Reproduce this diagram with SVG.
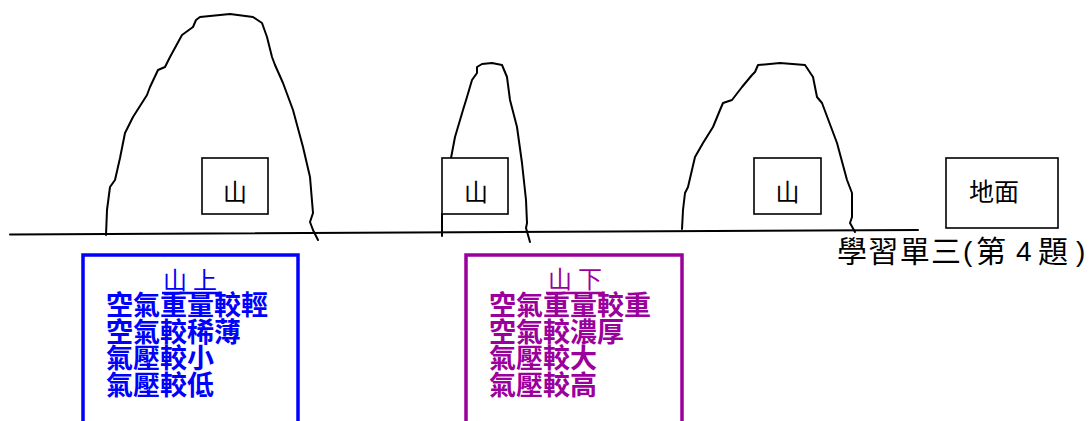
<svg xmlns="http://www.w3.org/2000/svg" width="1091" height="421" viewBox="0 0 1091 421">
  <style>
    .ridge { fill: none; stroke: #000; stroke-width: 2; stroke-linejoin: round; stroke-linecap: round; }
    .tag { fill: #fff; stroke: #000; stroke-width: 1.6; }
    .tagtext { font-family: "Noto Sans CJK TC", "Noto Sans CJK SC", sans-serif; font-size: 24px; fill: #000; text-anchor: middle; }
    .note { font-family: "Noto Sans CJK TC", "Noto Sans CJK SC", sans-serif; font-size: 27px; font-weight: 700; }
    .head { font-family: "Noto Sans CJK TC", "Noto Sans CJK SC", sans-serif; font-size: 24px; letter-spacing: 6px; }
    .title-cjk { font-family: "Noto Sans CJK TC", "Noto Sans CJK SC", sans-serif; font-size: 30px; fill: #000; }
    .title-lat { font-family: "Liberation Sans", Arial, sans-serif; font-size: 28px; fill: #000; }
    .blue { fill: #0000ff; }
    .purple { fill: #9c009c; }
  </style>

  <rect width="1091" height="421" fill="#fff"/>

  <!-- ground line -->
  <g id="ground">
    <path class="ridge" d="M10,234.5 L918,230"/>
  </g>

  <!-- mountain 1 -->
  <g id="mountain-1">
    <path class="ridge" d="M106,235 L107,210 L110,187 L115,180 L120,158 L125,133 L133,117 L147,95 L150,87 L158,70 L165,67 L170,57 L182,35 L193,27 L196,20 L200,17 L230,14 L253,17 L262,23 L267,37 L272,57 L275,65 L283,83 L293,110 L303,147 L310,177 L313,213 L310,222 L313,230 L318,240"/>
    <rect class="tag" x="202" y="158" width="66" height="56"/>
    <text class="tagtext" x="235" y="201">山</text>
  </g>

  <!-- mountain 2 -->
  <g id="mountain-2">
    <path class="ridge" d="M451,158 L455,137 L463,110 L467,97 L472,80 L477,73 L477,67 L482,64 L492,63 L502,65 L507,77 L510,100 L517,127 L522,163 L526,200 L527,223 L526,228 L530,242"/>
    <path class="ridge" d="M442,214 L442,236"/>
    <rect class="tag" x="442" y="158" width="66" height="56"/>
    <text class="tagtext" x="476" y="201">山</text>
  </g>

  <!-- mountain 3 -->
  <g id="mountain-3">
    <path class="ridge" d="M682,229 L683,210 L685,193 L688,187 L695,157 L703,143 L713,127 L720,110 L723,103 L732,100 L742,87 L752,75 L755,72 L758,65 L780,63 L805,65 L813,77 L817,97 L822,103 L837,143 L847,180 L852,193 L852,217 L850,223 L855,232"/>
    <rect class="tag" x="754" y="158" width="67" height="56"/>
    <text class="tagtext" x="787.5" y="201">山</text>
  </g>

  <!-- ground label -->
  <g id="ground-label">
    <rect class="tag" x="946" y="158" width="112" height="70"/>
    <text class="tagtext" x="994" y="201" style="font-size:25px">地面</text>
  </g>

  <!-- title: 學習單三(第 4 題) -->
  <g id="title">
    <text class="title-cjk" x="837" y="262" textLength="124" lengthAdjust="spacing">學習單三</text>
    <text class="title-lat" x="963" y="261">(</text>
    <text class="title-cjk" x="976" y="262">第</text>
    <text class="title-lat" x="1016" y="261">4</text>
    <text class="title-cjk" x="1038" y="262">題</text>
    <text class="title-lat" x="1076" y="261">)</text>
  </g>

  <!-- mountain-top notes -->
  <g id="note-top">
    <rect x="83" y="255" width="215" height="190" fill="none" stroke="#0000ff" stroke-width="3.5"/>
    <text class="head blue" x="163" y="289">山上</text>
    <path d="M162,293 L220,293" stroke="#0000ff" stroke-width="2.5"/>
    <text class="note blue" x="106" y="315">空氣重量較輕</text>
    <text class="note blue" x="106" y="341.5">空氣較稀薄</text>
    <text class="note blue" x="106" y="368">氣壓較小</text>
    <text class="note blue" x="106" y="394.5">氣壓較低</text>
  </g>

  <!-- mountain-foot notes -->
  <g id="note-foot">
    <rect x="466" y="255" width="216" height="190" fill="none" stroke="#9c009c" stroke-width="3.5"/>
    <text class="head purple" x="548" y="288">山下</text>
    <path d="M546,293 L603,293" stroke="#9c009c" stroke-width="2.5"/>
    <text class="note purple" x="489" y="315">空氣重量較重</text>
    <text class="note purple" x="489" y="341.5">空氣較濃厚</text>
    <text class="note purple" x="489" y="368">氣壓較大</text>
    <text class="note purple" x="489" y="394.5">氣壓較高</text>
  </g>
</svg>
